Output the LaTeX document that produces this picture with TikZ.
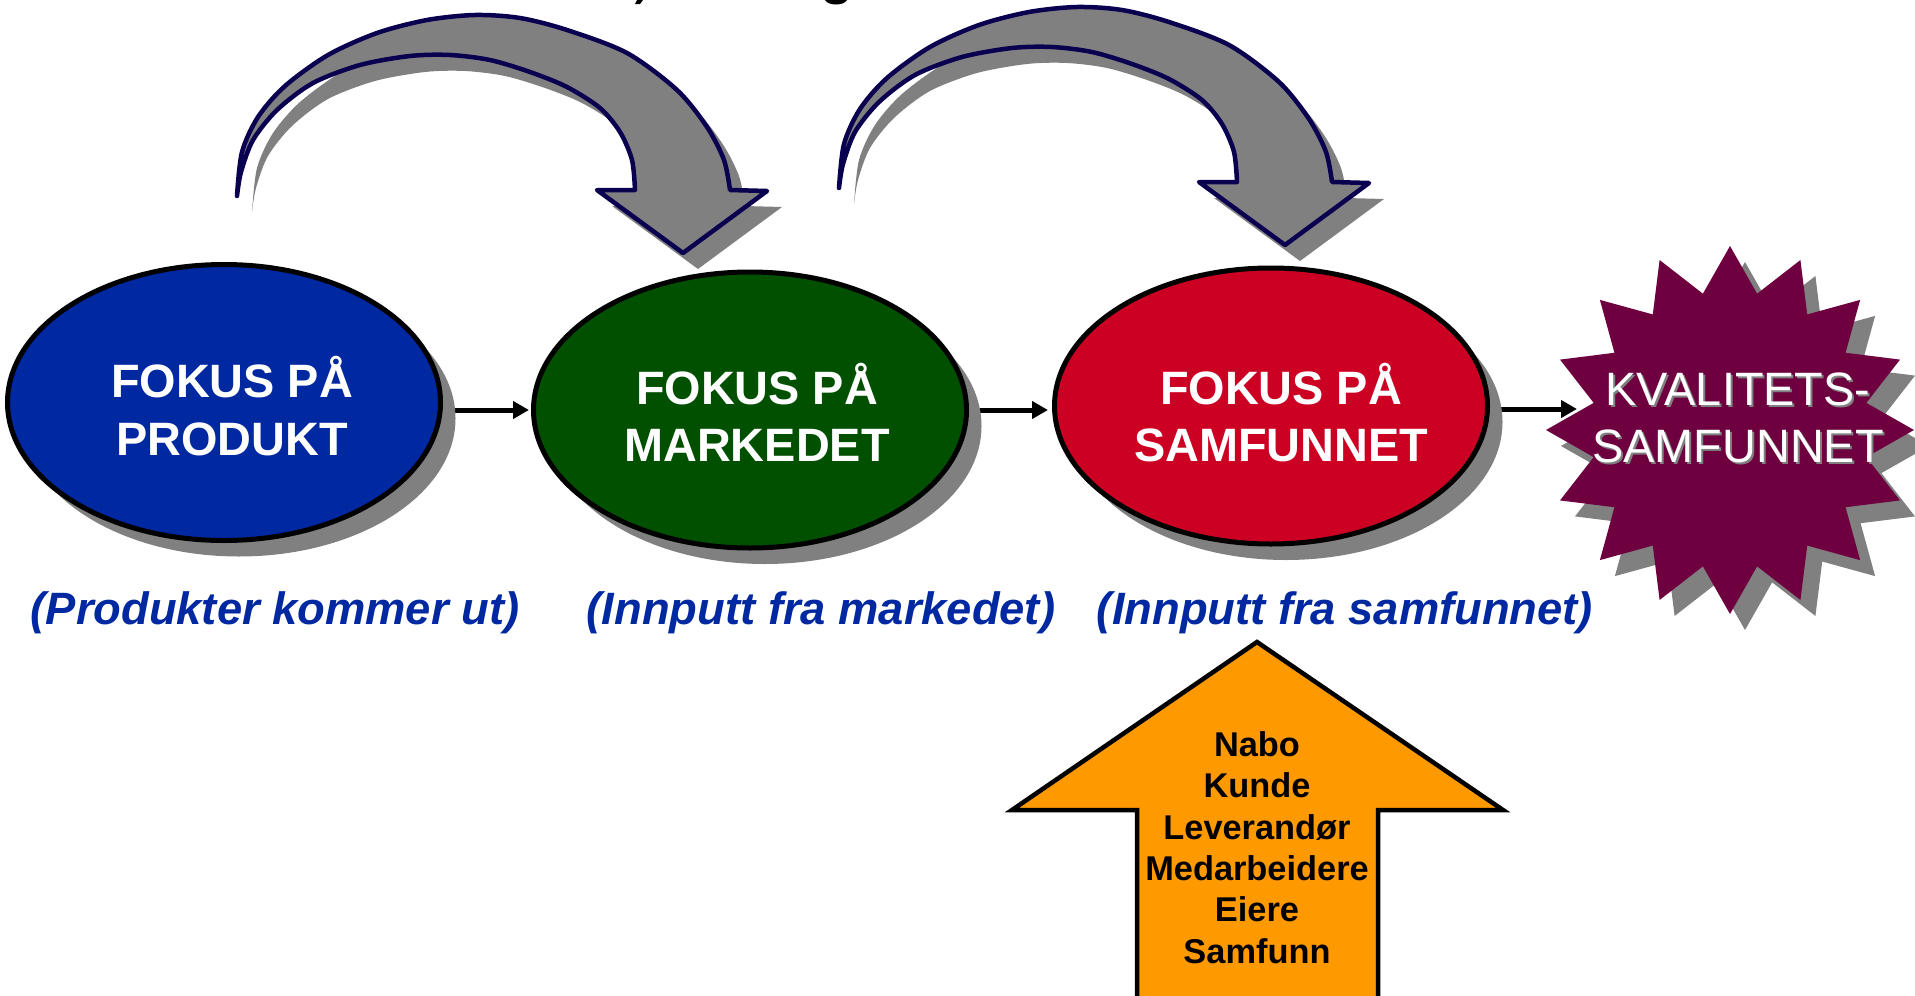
\documentclass[tikz,border=0pt]{standalone}
\usepackage{fontspec}
\setmainfont{Liberation Sans}
\usetikzlibrary{shapes.geometric,arrows.meta,shadows,backgrounds,calc}

\definecolor{fokusblue}{RGB}{0,40,160}
\definecolor{fokusgreen}{RGB}{0,80,0}
\definecolor{fokusred}{RGB}{204,0,34}
\definecolor{kvalplum}{RGB}{110,0,64}
\definecolor{inputorange}{RGB}{255,153,0}
\definecolor{shadowgray}{RGB}{128,128,128}
\definecolor{arrownavy}{RGB}{10,0,80}

\tikzset{
  focus/.style={ellipse, draw=black, line width=5bp, minimum width=433bp,
    minimum height=276bp, inner sep=0pt,
    drop shadow={shadow xshift=15bp, shadow yshift=-16bp, fill=shadowgray, opacity=1}},
  ftext/.style={text=white, font=\bfseries\fontsize{47}{57}\selectfont,
    inner sep=0pt, anchor=base},
  lbl/.style={text=fokusblue, font=\bfseries\itshape\fontsize{45.5}{54}\selectfont,
    inner sep=0pt, anchor=base},
  kvtext/.style={text=white, font=\fontsize{47}{57}\selectfont, inner sep=0pt, anchor=base},
  kvshade/.style={kvtext, text=shadowgray},
  conn/.style={line width=5bp, -{Triangle[length=16bp,width=17bp]}},
  bendarrow/.style={fill=shadowgray, draw=arrownavy, line width=4.5bp,
    line join=round, line cap=round},
  inputarrow/.style={fill=inputorange, draw=black, line width=4.5bp, line join=miter},
  inputtext/.style={align=center, font=\bfseries\fontsize{34.5}{41.6}\selectfont,
    inner sep=0pt, anchor=north},
  % outline of the curved block arrow (tail at the left, head pointing down)
  bend arrow outline/.style={insert path={
    (237,196) -- plot[smooth] coordinates {(237,196) (242,152) (258,117) (285,86)
      (328,55) (377,33) (427,20) (475,15) (520,18) (567,30) (627,53) (677,90)
      (707,127) (724,160) (730,190)}
    -- (767,191) -- (683,253) -- (597,190) -- (635,190)
    -- plot[smooth] coordinates {(635,190) (632,160) (620,132) (600,108) (567,87)
      (530,72) (490,60) (450,55) (410,56) (360,65) (313,83) (277,110) (253,140)
      (241,172) (237,196)} -- cycle}},
  % sixteen-pointed star around the origin
  kvstar outline/.style={insert path={
    (90:184) \foreach \i in {0,...,15} {
      -- ({101.25+\i*22.5}:139) -- ({112.5+\i*22.5}:184) } -- cycle}}
}

\begin{document}
\begin{tikzpicture}[x=1bp,y=-1bp]
\useasboundingbox (0,0) rectangle (1915,995);
\clip (0,0) rectangle (1915,995);

% descenders of the heading line above
\fill[black] (637,0) -- (643,0) -- (640,4) -- (635,4) -- cycle;
\fill[black] (825,0) .. controls (828,6) and (844,6) .. (847,0) -- cycle;

% curved block arrows with their shadows
\foreach \dx/\dy in {0/0, 602/-8} {
  \fill[shadowgray, shift={(\dx+15,\dy+16)}, bend arrow outline];
  \path[bendarrow, shift={(\dx,\dy)}, bend arrow outline];
}

% the three focus stages
\node[focus, fill=fokusblue]  (e1) at (224,402.5) {};
\node[focus, fill=fokusgreen] (e2) at (750,410) {};
\node[focus, fill=fokusred]   (e3) at (1271,406) {};

\node[ftext] (e1a) at (232,397) {FOKUS PÅ};
\node[ftext] (e1b) at (232,455) {PRODUKT};
\node[ftext] (e2a) at (757,404) {FOKUS PÅ};
\node[ftext] (e2b) at (757,461) {MARKEDET};
\node[ftext] (e3a) at (1281,404) {FOKUS PÅ};
\node[ftext] (e3b) at (1281,461) {SAMFUNNET};

\node[lbl] (l1) at (275,624) {(Produkter kommer ut)};
\node[lbl] (l2) at (821,624) {(Innputt fra markedet)};
\node[lbl] (l3) at (1345,624) {(Innputt fra samfunnet)};

% the quality society star
\fill[shadowgray, shift={(1745,446)}, kvstar outline];
\fill[kvalplum, shift={(1730,430)}, kvstar outline];
\coordinate (kv) at (1730,430);
\coordinate (kvin) at (1577,409);
\node[kvshade] (kv1s) at (1740,407) {KVALITETS-};
\node[kvshade] (kv2s) at (1740,464) {SAMFUNNET};
\node[kvtext]  (kv1)  at (1738,405) {KVALITETS-};
\node[kvtext]  (kv2)  at (1738,462) {SAMFUNNET};

% stakeholder input arrow
\draw[inputarrow] (1257,642) -- (1503,810) -- (1378,810) -- (1378,1005)
  -- (1137,1005) -- (1137,810) -- (1012,810) -- cycle;
\node[inputtext] (inputs) at (1257,731)
  {Nabo\\Kunde\\Leverandør\\Medarbeidere\\Eiere\\Samfunn};

% connectors between the stages
\begin{scope}[on background layer]
  \draw[conn, shorten >=2bp] (e1.east |- e2.west) -- (e2.west);
  \draw[conn, shorten >=4bp] (e2.east) -- (e2.east -| e3.west);
  \draw[conn] (e3.east |- kvin) -- (kvin);
\end{scope}
\end{tikzpicture}
\end{document}
